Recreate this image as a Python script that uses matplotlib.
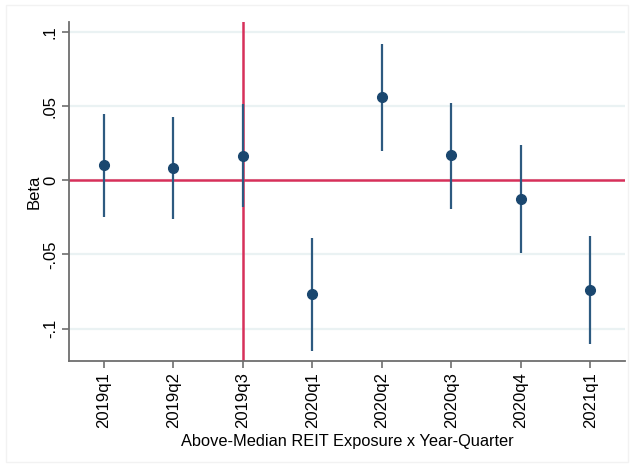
import matplotlib
matplotlib.use("Agg")
import matplotlib.pyplot as plt
from matplotlib.patches import Rectangle
import numpy as np

plt.rcParams['font.family'] = ['Liberation Sans', 'DejaVu Sans']

# event-study coefficients
quarters = ['2019q1', '2019q2', '2019q3', '2020q1', '2020q2', '2020q3', '2020q4', '2021q1']
beta = [0.0101, 0.0085, 0.0166, -0.0770, 0.0559, 0.0168, -0.0126, -0.0741]
ci_low = [-0.0245, -0.0263, -0.0184, -0.1152, 0.0197, -0.0191, -0.0494, -0.1107]
ci_high = [0.0444, 0.0429, 0.0517, -0.0393, 0.0920, 0.0523, 0.0238, -0.0375]
yticks = [-0.1, -0.05, 0, 0.05, 0.1]
ytick_labels = ['-.1', '-.05', '0', '.05', '.1']
event_idx = 3  # 2019q3

navy = '#1a476f'
red = '#d7305a'

fig = plt.figure(figsize=(6.35, 4.67), dpi=100)
# faint outer frame like the Stata graph region
fig.patches.append(Rectangle((0.009, 0.011), 0.98, 0.978, transform=fig.transFigure,
                             fill=False, edgecolor='#f2f2f2', lw=1.0))
ax = fig.add_axes([0.1087, 0.227, 0.8755, 0.726])

x = np.arange(1, len(quarters) + 1)

# grid
for yv in yticks:
    ax.axhline(yv, color='#eaf2f3', lw=1.6, zorder=0)

ax.axhline(0, color=red, lw=1.8, zorder=1)
ax.axvline(event_idx, color=red, lw=1.8, zorder=1)

ax.vlines(x, ci_low, ci_high, color='#2d5a80', lw=1.6, zorder=2)
ax.plot(x, beta, 'o', color=navy, markersize=7, zorder=3)

ax.set_xlim(0.5, 8.5)
ax.set_ylim(-0.1219, 0.1067)

ax.set_xticks(x)
ax.set_xticklabels(quarters, rotation=90, fontsize=12)
ax.set_yticks(yticks)
ax.set_yticklabels(ytick_labels, rotation=90, va='center', fontsize=12)

ax.set_ylabel('Beta', fontsize=12, labelpad=1)
ax.set_xlabel('Above-Median REIT Exposure x Year-Quarter', fontsize=11.8, labelpad=4)

for side in ['top', 'right']:
    ax.spines[side].set_visible(False)
for side in ['left', 'bottom']:
    ax.spines[side].set_color('#6e6e6e')
    ax.spines[side].set_linewidth(1.3)
ax.tick_params(direction='out', length=5, width=1.2, color='#6e6e6e', pad=3)

plt.savefig('out.png', dpi=100)
